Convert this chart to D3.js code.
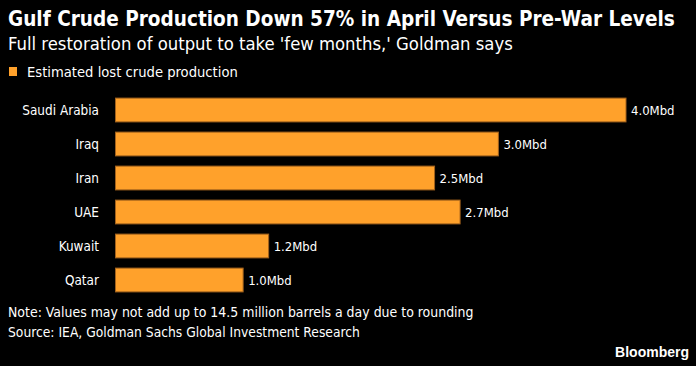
<!DOCTYPE html>
<html><head><meta charset="utf-8">
<script src="https://cdn.jsdelivr.net/npm/d3@7"></script>
<style>
html,body{margin:0;padding:0;background:#000;}
svg{display:block;}
text{font-family:"DejaVu Sans Condensed","DejaVu Sans",sans-serif;fill:#fff;}
</style></head>
<body>
<script>
const categories = ["Saudi Arabia","Iraq","Iran","UAE","Kuwait","Qatar"];
const values = [4.0,3.0,2.5,2.7,1.2,1.0];
const valueLabels = ["4.0Mbd","3.0Mbd","2.5Mbd","2.7Mbd","1.2Mbd","1.0Mbd"];
const seriesName = "Estimated lost crude production";
const title = "Gulf Crude Production Down 57% in April Versus Pre-War Levels";
const subtitle = "Full restoration of output to take 'few months,' Goldman says";
const note = "Note: Values may not add up to 14.5 million barrels a day due to rounding";
const source = "Source: IEA, Goldman Sachs Global Investment Research";

const W = 696, H = 366;
const svg = d3.select("body").append("svg").attr("width",W).attr("height",H);
svg.append("rect").attr("width",W).attr("height",H).attr("fill","#000");

function fitText(sel, target){
  const w = sel.node().getComputedTextLength();
  const fs = parseFloat(sel.attr("font-size"));
  sel.attr("font-size", fs*target/w);
}

const t = svg.append("text").attr("x",8).attr("y",26).attr("font-size",18).attr("font-weight","bold").text(title);
fitText(t, 667);
const st = svg.append("text").attr("x",8).attr("y",50).attr("font-size",17).text(subtitle);
fitText(st, 505);

const orange = "#ffa12b";
svg.append("rect").attr("x",9).attr("y",67).attr("width",8).attr("height",9).attr("fill",orange);
const lg = svg.append("text").attr("x",27).attr("y",77).attr("font-size",14).text(seriesName);
fitText(lg, 211);

const x = d3.scaleLinear().domain([0,4]).range([115.5,626]);
const y = d3.scaleBand().domain(categories).range([93,297]).paddingInner(0.3).paddingOuter(0.15);

const g = svg.append("g");
g.selectAll("rect.bar").data(categories).join("rect").attr("class","bar")
  .attr("x",x(0)).attr("y",d=>y(d)).attr("height",y.bandwidth())
  .attr("width",(d,i)=>x(values[i])-x(0))
  .attr("fill",orange).attr("stroke","#a2611c").attr("stroke-width",1);

const yAxis = d3.axisLeft(y).tickSize(0).tickPadding(0);
const ya = svg.append("g").attr("transform","translate(99,0)").call(yAxis);
ya.select(".domain").remove();
ya.selectAll("text").attr("font-size",14).attr("fill","#fff").attr("dy","0.35em")
  .style("font-family",'"DejaVu Sans Condensed","DejaVu Sans",sans-serif');
ya.selectAll("text").each(function(){ fitText(d3.select(this), this.getComputedTextLength()*0.96); });

g.selectAll("text.val").data(categories).join("text").attr("class","val")
  .attr("x",(d,i)=>x(values[i])+5).attr("y",d=>y(d)+y.bandwidth()/2)
  .attr("dy","0.35em").attr("font-size",13).text((d,i)=>valueLabels[i]);

const n = svg.append("text").attr("x",8).attr("y",317).attr("font-size",14).text(note);
fitText(n, 466);
const s = svg.append("text").attr("x",8).attr("y",337).attr("font-size",14).text(source);
fitText(s, 352);

svg.append("text").attr("x",689).attr("y",357).attr("text-anchor","end")
  .attr("font-size",14).attr("font-weight","bold")
  .style("font-family",'"Liberation Sans Narrow","Liberation Sans",Arial,sans-serif')
  .text("Bloomberg");
</script>
</body></html>
